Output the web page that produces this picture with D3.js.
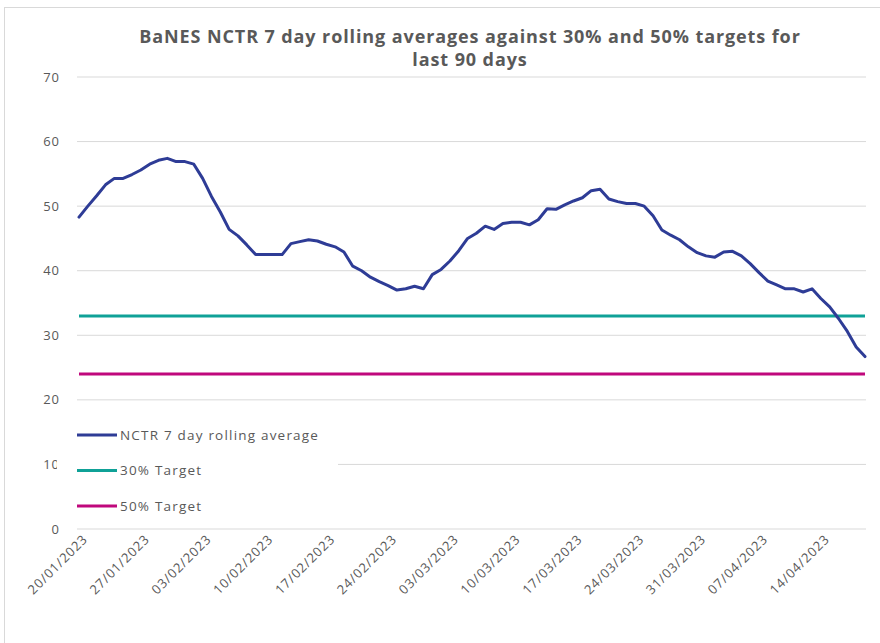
<!DOCTYPE html>
<html>
<head>
<meta charset="utf-8">
<script src="https://cdn.jsdelivr.net/npm/d3@7"></script>
<style>
  body { margin: 0; background: #fff; }
  text { font-family: "Open Sans", "Liberation Sans", sans-serif; fill: #595959; }
</style>
</head>
<body>
<svg id="chart" width="880" height="643"></svg>
<script>
// NCTR 7 day rolling average, one value per day from 20/01/2023
var startDate = new Date(2023, 0, 20)
var nctr = [48.3, 50.0, 51.6, 53.3, 54.3, 54.3, 54.9, 55.6, 56.5, 57.1,
            57.4, 56.9, 56.9, 56.5, 54.3, 51.5, 49.1, 46.4, 45.4, 44.0,
            42.5, 42.5, 42.5, 42.5, 44.2, 44.5, 44.8, 44.6, 44.1, 43.7,
            42.9, 40.7, 40.0, 39.0, 38.3, 37.7, 37.0, 37.2, 37.6, 37.2,
            39.4, 40.2, 41.5, 43.1, 45.0, 45.8, 46.9, 46.4, 47.3, 47.5,
            47.5, 47.1, 47.9, 49.6, 49.5, 50.2, 50.8, 51.3, 52.4, 52.6,
            51.1, 50.7, 50.4, 50.4, 50.0, 48.5, 46.3, 45.5, 44.8, 43.7,
            42.8, 42.3, 42.1, 42.9, 43.0, 42.3, 41.1, 39.7, 38.4, 37.8,
            37.2, 37.2, 36.7, 37.2, 35.7, 34.4, 32.6, 30.6, 28.2, 26.7]
var target30 = 33
var target50 = 24
var tickLabels = ["20/01/2023", "27/01/2023", "03/02/2023", "10/02/2023", "17/02/2023",
                  "24/02/2023", "03/03/2023", "10/03/2023", "17/03/2023", "24/03/2023",
                  "31/03/2023", "07/04/2023", "14/04/2023"]
var yTicks = [0, 10, 20, 30, 40, 50, 60, 70]

var fmt = d3.timeFormat("%d/%m/%Y")
var categories = nctr.map(function(d, i) { return fmt(d3.timeDay.offset(startDate, i)) })

var svg = d3.select("#chart")

// outer chart border
svg.append("rect")
   .attr("x", 4.5).attr("y", 7.5)
   .attr("width", 900).attr("height", 700)
   .attr("fill", "#fff")
   .attr("stroke", "#d9d9d9")

svg.append("text")
   .attr("x", 470).attr("y", 43)
   .attr("text-anchor", "middle")
   .attr("font-size", "18px")
   .attr("font-weight", "bold")
   .style("letter-spacing", "0.9px")
   .text("BaNES NCTR 7 day rolling averages against 30% and 50% targets for")
svg.append("text")
   .attr("x", 470).attr("y", 66)
   .attr("text-anchor", "middle")
   .attr("font-size", "18px")
   .attr("font-weight", "bold")
   .style("letter-spacing", "0.9px")
   .text("last 90 days")

var x = d3.scalePoint().domain(categories).range([79, 865])
var y = d3.scaleLinear().domain([0, 70]).range([529, 77])

// gridlines
svg.append("g")
   .selectAll("line")
   .data(yTicks)
   .enter()
   .append("line")
   .attr("x1", 77).attr("x2", 866)
   .attr("y1", function(d) { return y(d) }).attr("y2", function(d) { return y(d) })
   .attr("stroke", "#d9d9d9")
   .attr("stroke-width", 1)

// y labels
svg.append("g")
   .selectAll("text")
   .data(yTicks)
   .enter()
   .append("text")
   .attr("x", 60)
   .attr("y", function(d) { return y(d) })
   .attr("dy", "0.35em")
   .attr("text-anchor", "end")
   .attr("font-size", "13px")
   .style("letter-spacing", "1px")
   .text(function(d) { return d })

// x axis labels
var xAxis = svg.append("g")
   .attr("transform", "translate(0,529)")
   .call(d3.axisBottom(x).tickValues(tickLabels).tickSize(0).tickPadding(0))
xAxis.select(".domain").remove()
xAxis.selectAll("text")
   .attr("font-family", null)
   .attr("font-size", "13px")
   .attr("fill", "#595959")
   .attr("text-anchor", "end")
   .attr("dy", null)
   .attr("y", 0)
   .style("letter-spacing", "0.9px")
   .attr("transform", "translate(9,11) rotate(-45)")

var line = d3.line()
   .x(function(d, i) { return x(categories[i]) })
   .y(function(d) { return y(d) })

var ends = [categories[0], categories[categories.length - 1]]

svg.append("line")
   .attr("x1", x(ends[0])).attr("x2", x(ends[1]))
   .attr("y1", y(target50)).attr("y2", y(target50))
   .attr("stroke", "#c0087c").attr("stroke-width", 3)

svg.append("line")
   .attr("x1", x(ends[0])).attr("x2", x(ends[1]))
   .attr("y1", y(target30)).attr("y2", y(target30))
   .attr("stroke", "#0fa197").attr("stroke-width", 3)

svg.append("path")
   .datum(nctr)
   .attr("d", line)
   .attr("fill", "none")
   .attr("stroke", "#2e3c96")
   .attr("stroke-width", 3)
   .attr("stroke-linejoin", "round")
   .attr("stroke-linecap", "round")

// legend with white background
var legend = svg.append("g")
legend.append("rect")
   .attr("x", 57).attr("y", 416)
   .attr("width", 281).attr("height", 106)
   .attr("fill", "#fff")

var legendItems = [
  { name: "NCTR 7 day rolling average", color: "#2e3c96" },
  { name: "30% Target", color: "#0fa197" },
  { name: "50% Target", color: "#c0087c" }
]
var li = legend.selectAll(".item")
   .data(legendItems)
   .enter()
   .append("g")
   .attr("transform", function(d, i) { return "translate(76," + (435 + i * 35.5) + ")" })
li.append("line")
   .attr("x1", 1).attr("x2", 41)
   .attr("stroke", function(d) { return d.color })
   .attr("stroke-width", 3)
li.append("text")
   .attr("x", 44)
   .attr("dy", "0.35em")
   .attr("font-size", "13.5px")
   .style("letter-spacing", "1.2px")
   .text(function(d) { return d.name })
</script>
</body>
</html>
